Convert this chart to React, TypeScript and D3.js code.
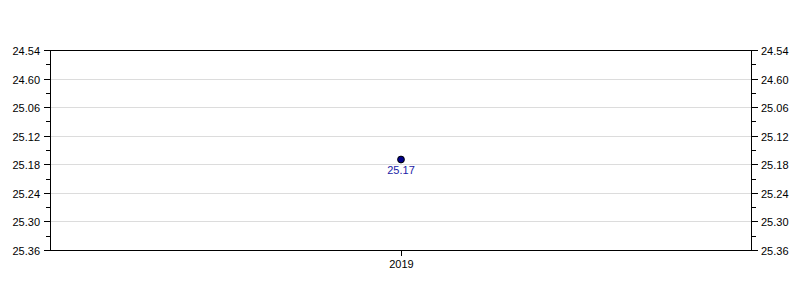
import React from "react";
import * as d3 from "d3";

const categories = ["2019"];
const valuesSec = [1517]; // 25.17 -> 25 min 17 s
const valueLabels = ["25.17"];
const tickSec = [1494, 1500, 1506, 1512, 1518, 1524, 1530, 1536];
const tickLabels = ["24.54", "24.60", "25.06", "25.12", "25.18", "25.24", "25.30", "25.36"];

export default function App() {
  const W = 800, H = 300;
  const left = 50, right = 751, top = 50, bottom = 250;
  const y = d3.scaleLinear().domain([1494, 1536]).range([top, bottom]);
  const x = d3.scaleBand().domain(categories).range([left, right]);
  const minor = tickSec.slice(0, -1).map((t) => t + 3);
  const font = "Liberation Sans, Arial, sans-serif";
  return (
    <svg width={W} height={H} style={{ position: "absolute", left: 0, top: 0 }} fontFamily={font}>
      <rect width={W} height={H} fill="#fff" />
      {tickSec.slice(1, -1).map((t) => (
        <line key={"g" + t} x1={left} x2={right} y1={Math.round(y(t)) + 0.5} y2={Math.round(y(t)) + 0.5} stroke="#dcdcdc" />
      ))}
      <rect x={left + 0.5} y={top + 0.5} width={right - left} height={bottom - top} fill="none" stroke="#000" />
      {tickSec.map((t, i) => {
        const yy = Math.round(y(t)) + 0.5;
        return (
          <g key={"t" + t}>
            <line x1={left - 6} x2={left} y1={yy} y2={yy} stroke="#000" />
            <line x1={right + 1} x2={right + 7} y1={yy} y2={yy} stroke="#000" />
            <text x={left - 10} y={yy + 4} textAnchor="end" fontSize={11} fill="#000">{tickLabels[i]}</text>
            <text x={right + 10} y={yy + 4} textAnchor="start" fontSize={11} fill="#000">{tickLabels[i]}</text>
          </g>
        );
      })}
      {minor.map((t) => {
        const yy = Math.round(y(t)) + 0.5;
        return (
          <g key={"m" + t}>
            <line x1={left - 4} x2={left} y1={yy} y2={yy} stroke="#000" />
            <line x1={right + 1} x2={right + 5} y1={yy} y2={yy} stroke="#000" />
          </g>
        );
      })}
      {categories.map((c) => {
        const cx = Math.round((x(c) ?? 0) + x.bandwidth() / 2) + 0.5;
        return (
          <g key={c}>
            <line x1={cx} x2={cx} y1={bottom + 1} y2={bottom + 6} stroke="#000" />
            <text x={cx} y={bottom + 18} textAnchor="middle" fontSize={11} fill="#000">{c}</text>
          </g>
        );
      })}
      {categories.map((c, i) => {
        const cx = (x(c) ?? 0) + x.bandwidth() / 2 + 0.5;
        const cy = y(valuesSec[i]);
        return (
          <g key={"p" + c}>
            <circle cx={cx} cy={cy} r={3.4} fill="#00008b" stroke="#000" strokeWidth={1} />
            <text x={cx} y={cy + 14} textAnchor="middle" fontSize={11} fill="#1a1aa6">{valueLabels[i]}</text>
          </g>
        );
      })}
    </svg>
  );
}
